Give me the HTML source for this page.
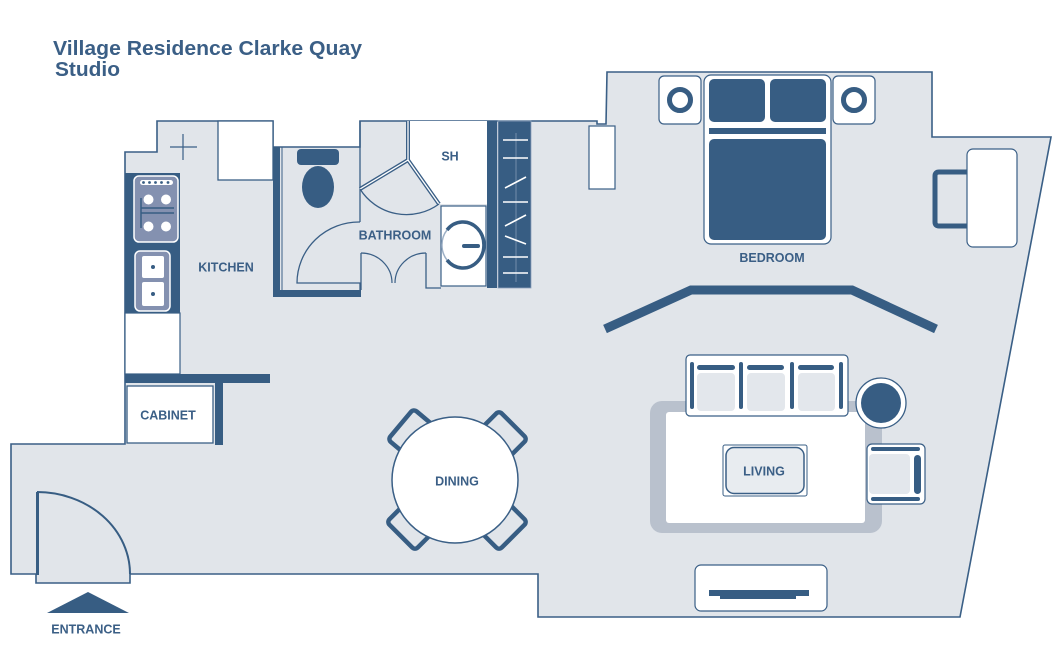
<!DOCTYPE html>
<html><head><meta charset="utf-8"><style>
html,body{margin:0;padding:0;background:#fff;}
svg{display:block;}
text{font-family:"Liberation Sans",Arial,sans-serif;font-weight:bold;fill:#3b5f86;}
</style></head><body>
<svg width="1062" height="664" viewBox="0 0 1062 664" xmlns="http://www.w3.org/2000/svg">
<rect width="1062" height="664" fill="#fff"/>
<!-- title -->
<text x="53" y="55" font-size="20" textLength="309" lengthAdjust="spacingAndGlyphs">Village Residence Clarke Quay</text>
<text x="55" y="76" font-size="20" textLength="65" lengthAdjust="spacingAndGlyphs">Studio</text>

<!-- floor -->
<path d="M125,152 L157,152 L157,121 L273,121 L273,147 L360,147 L360,121 L597,121 L597,124 L606,124 L607,72 L932,72 L932,137 L1051,137 L960,617 L538,617 L538,574 L130,574 L130,583 L36,583 L36,574 L11,574 L11,444 L125,444 Z" fill="#e1e5ea" stroke="#3a5f86" stroke-width="1.6" stroke-linejoin="miter"/>

<!-- kitchen -->
<rect x="218" y="121" width="55" height="59" fill="#fff" stroke="#3a5f86" stroke-width="1.3"/>
<line x1="170" y1="147" x2="197" y2="147" stroke="#3a5f86" stroke-width="1.2"/>
<line x1="183" y1="134" x2="183" y2="160" stroke="#3a5f86" stroke-width="1.2"/>
<rect x="125" y="173" width="55" height="140" fill="#375d83"/>
<rect x="134" y="176" width="44" height="66" rx="5" fill="#8491b0" stroke="#fff" stroke-width="1.5"/>
<rect x="140" y="180" width="33" height="5" rx="2.5" fill="#fff"/>
<g fill="#375d83"><circle cx="143.5" cy="182.5" r="1.4"/><circle cx="149.5" cy="182.5" r="1.4"/><circle cx="155.5" cy="182.5" r="1.4"/><circle cx="161.5" cy="182.5" r="1.4"/><circle cx="168" cy="182.5" r="1.4"/></g>
<g fill="#fff"><circle cx="148.5" cy="199.5" r="5"/><circle cx="166" cy="199.5" r="5"/><circle cx="148.5" cy="226.5" r="5"/><circle cx="166" cy="226.5" r="5"/></g>
<g stroke="#375d83" stroke-width="1.5"><line x1="141" y1="198" x2="141" y2="228"/><line x1="141" y1="208" x2="174" y2="208"/><line x1="141" y1="213" x2="174" y2="213"/></g>
<rect x="135" y="251" width="35" height="60" rx="5" fill="#8491b0" stroke="#fff" stroke-width="1.5"/>
<rect x="142" y="256" width="22" height="22" rx="2" fill="#fff"/>
<rect x="142" y="282" width="22" height="24" rx="2" fill="#fff"/>
<circle cx="153" cy="267" r="2" fill="#375d83"/>
<circle cx="153" cy="294" r="2" fill="#375d83"/>
<rect x="125" y="313" width="55" height="61" fill="#fff" stroke="#3a5f86" stroke-width="1.2"/>
<rect x="125" y="374" width="145" height="9" fill="#375d83"/>
<rect x="127" y="386" width="86" height="57" fill="#fff" stroke="#3a5f86" stroke-width="1.3"/>
<rect x="215" y="383" width="8" height="62" fill="#375d83"/>
<text x="226" y="271.5" font-size="12.5" text-anchor="middle">KITCHEN</text>
<text x="168" y="419.5" font-size="12.5" text-anchor="middle">CABINET</text>

<!-- bathroom -->
<rect x="273" y="147" width="7" height="150" fill="#375d83"/>
<rect x="273" y="290" width="88" height="7" fill="#375d83"/>
<line x1="282" y1="147" x2="282" y2="290" stroke="#3a5f86" stroke-width="1"/>
<line x1="360" y1="121" x2="360" y2="222" stroke="#3a5f86" stroke-width="1.3"/>
<path d="M360,222 A62,61 0 0 0 297,283 L360,283 L360,290" fill="none" stroke="#3a5f86" stroke-width="1.3"/>
<rect x="297" y="149" width="42" height="16" rx="4" fill="#375d83"/>
<ellipse cx="318" cy="187" rx="16" ry="21" fill="#375d83"/>
<!-- shower -->
<path d="M410,121 L487,121 L487,204 L440,204 L410,161 Z" fill="#fff"/>
<path d="M408,121 L408,160 L439,204 M360,189 L408,160" fill="none" stroke="#3a5f86" stroke-width="4"/>
<path d="M408,121 L408,160 L439,204 M360,189 L408,160" fill="none" stroke="#fff" stroke-width="1.3"/>
<path d="M360,189 A55,55 0 0 0 439,204" fill="none" stroke="#3a5f86" stroke-width="1.3"/>
<text x="450" y="160.5" font-size="12.5" text-anchor="middle">SH</text>
<!-- sink -->
<rect x="441" y="206" width="45" height="80" fill="#fff" stroke="#3a5f86" stroke-width="1.2"/>
<path d="M447,230 A21,23 0 1 1 447,260" fill="none" stroke="#375d83" stroke-width="3.5"/>
<path d="M447,230 A21,23 0 0 0 447,260" fill="none" stroke="#9db0c6" stroke-width="1.5"/>
<line x1="464" y1="246" x2="478" y2="246" stroke="#375d83" stroke-width="4" stroke-linecap="round"/>
<!-- bath doors -->
<path d="M361,253 L361,290 M426,253 L426,288 L441,288" fill="none" stroke="#3a5f86" stroke-width="1.3"/>
<path d="M361,253 A31,30 0 0 1 392,283 M426,253 A31,30 0 0 0 395,283" fill="none" stroke="#3a5f86" stroke-width="1.2"/>
<text x="395" y="239.5" font-size="12.5" text-anchor="middle">BATHROOM</text>
<!-- wardrobe -->
<rect x="487" y="121" width="10" height="167" fill="#375d83"/>
<rect x="498" y="121" width="33" height="167" fill="#375d83" stroke="#8ea3bd" stroke-width="0.8"/>
<line x1="516" y1="133" x2="516" y2="282" stroke="#8ea3bd" stroke-width="0.7"/>
<g stroke="#fff" stroke-width="1.6">
<line x1="503" y1="140" x2="528" y2="140"/>
<line x1="503" y1="158" x2="528" y2="158"/>
<line x1="505" y1="188" x2="526" y2="177"/>
<line x1="503" y1="202" x2="528" y2="202"/>
<line x1="505" y1="226" x2="526" y2="215"/>
<line x1="505" y1="236" x2="526" y2="244"/>
<line x1="503" y1="257" x2="528" y2="257"/>
<line x1="503" y1="273" x2="528" y2="273"/>
</g>

<!-- bedroom -->
<rect x="589" y="126" width="26" height="63" fill="#fff" stroke="#3a5f86" stroke-width="1.2"/>
<rect x="659" y="76" width="42" height="48" rx="5" fill="#fff" stroke="#3a5f86" stroke-width="1.2"/>
<rect x="833" y="76" width="42" height="48" rx="5" fill="#fff" stroke="#3a5f86" stroke-width="1.2"/>
<circle cx="680" cy="100" r="13" fill="#d6dbe2"/>
<circle cx="854" cy="100" r="13" fill="#d6dbe2"/>
<circle cx="680" cy="100" r="10.5" fill="#fff" stroke="#375d83" stroke-width="5"/>
<circle cx="854" cy="100" r="10.5" fill="#fff" stroke="#375d83" stroke-width="5"/>
<rect x="704" y="75" width="127" height="169" rx="7" fill="#fff" stroke="#3a5f86" stroke-width="1.2"/>
<rect x="709" y="79" width="56" height="43" rx="5" fill="#375d83"/>
<rect x="770" y="79" width="56" height="43" rx="5" fill="#375d83"/>
<rect x="709" y="128" width="117" height="6" fill="#375d83"/>
<rect x="709" y="139" width="117" height="101" rx="5" fill="#375d83"/>
<text x="772" y="262" font-size="12.5" text-anchor="middle">BEDROOM</text>
<path d="M967,172 H939 Q935,172 935,176 V222 Q935,226 939,226 H967" fill="none" stroke="#375d83" stroke-width="5"/>
<rect x="967" y="149" width="50" height="98" rx="6" fill="#fff" stroke="#3a5f86" stroke-width="1.2"/>
<polyline points="605,329 691,290 852,290 936,329" fill="none" stroke="#375d83" stroke-width="9"/>

<!-- living -->
<rect x="650" y="401" width="232" height="132" rx="12" fill="#b9c1cd"/>
<rect x="666" y="412" width="199" height="111" rx="3" fill="#fff"/>
<rect x="686" y="355" width="162" height="61" rx="4" fill="#fff" stroke="#3a5f86" stroke-width="1.2"/>
<g fill="#e3e7ec"><rect x="697" y="373" width="38" height="38" rx="4"/><rect x="747" y="373" width="38" height="38" rx="4"/><rect x="798" y="373" width="37" height="38" rx="4"/></g>
<g fill="#375d83">
<rect x="697" y="365" width="38" height="5" rx="2.5"/><rect x="747" y="365" width="37" height="5" rx="2.5"/><rect x="798" y="365" width="36" height="5" rx="2.5"/>
<rect x="690" y="362" width="4" height="47" rx="2"/><rect x="739" y="362" width="4" height="47" rx="2"/><rect x="790" y="362" width="4" height="47" rx="2"/><rect x="839" y="362" width="4" height="47" rx="2"/>
</g>
<circle cx="881" cy="403" r="25" fill="#fff" stroke="#3a5f86" stroke-width="1.3"/>
<circle cx="881" cy="403" r="20" fill="#375d83"/>
<rect x="867" y="444" width="58" height="60" rx="5" fill="#fff" stroke="#3a5f86" stroke-width="1.2"/>
<rect x="869" y="454" width="41" height="40" rx="4" fill="#e3e7ec"/>
<g fill="#375d83"><rect x="871" y="447" width="49" height="4" rx="2"/><rect x="871" y="497" width="49" height="4" rx="2"/><rect x="914" y="455" width="7" height="39" rx="3.5"/></g>
<rect x="723" y="445" width="84" height="51" rx="2" fill="#fff" stroke="#3a5f86" stroke-width="1"/>
<rect x="726" y="447.5" width="78" height="46" rx="8" fill="#e8ecf0" stroke="#3a5f86" stroke-width="1.5"/>
<text x="764" y="475.5" font-size="12.5" text-anchor="middle">LIVING</text>
<rect x="695" y="565" width="132" height="46" rx="6" fill="#fff" stroke="#3a5f86" stroke-width="1.2"/>
<rect x="709" y="590" width="100" height="6" fill="#375d83"/>
<rect x="720" y="595" width="76" height="4" fill="#375d83"/>

<!-- dining -->
<g fill="#e1e5ea" stroke="#375d83" stroke-width="4.5">
<rect x="-20" y="-20" width="40" height="40" rx="4" transform="translate(416,437) rotate(40)"/>
<rect x="-20" y="-20" width="40" height="40" rx="4" transform="translate(499,439) rotate(45)"/>
<rect x="-20" y="-20" width="40" height="40" rx="4" transform="translate(415,522) rotate(45)"/>
<rect x="-20" y="-20" width="40" height="40" rx="4" transform="translate(499,522) rotate(45)"/>
</g>
<circle cx="455" cy="480" r="63" fill="#fff" stroke="#3a5f86" stroke-width="1.5"/>
<text x="457" y="485.5" font-size="12.5" text-anchor="middle">DINING</text>

<!-- entrance -->
<line x1="37.5" y1="492" x2="37.5" y2="575" stroke="#375d83" stroke-width="3"/>
<path d="M37,492 A93,82 0 0 1 130,574" fill="none" stroke="#375d83" stroke-width="2"/>
<polygon points="47,613 88,592 129,613" fill="#375d83"/>
<text x="86" y="633.5" font-size="12.5" text-anchor="middle">ENTRANCE</text>
</svg>
</body></html>
